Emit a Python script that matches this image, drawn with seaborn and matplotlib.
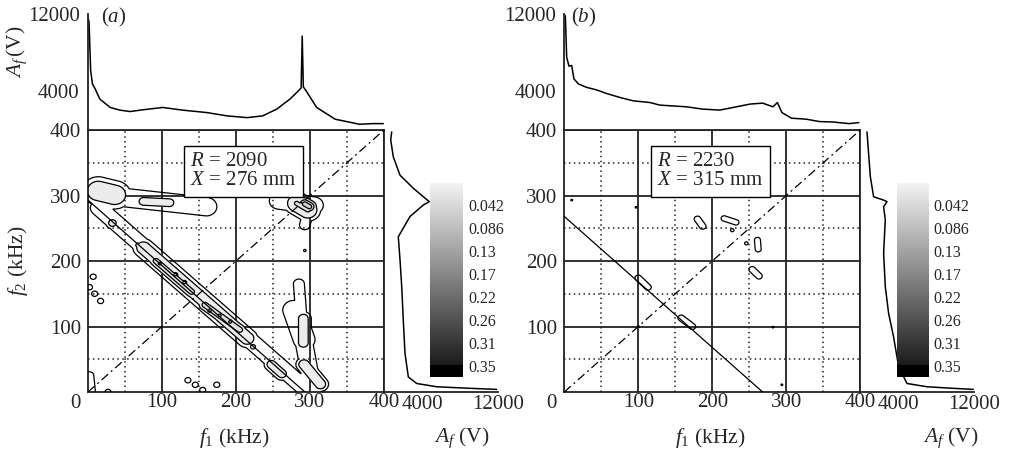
import numpy as np
import matplotlib
matplotlib.use("Agg")
import matplotlib.pyplot as plt
import seaborn as sns
from matplotlib.colors import LinearSegmentedColormap, Normalize

sns.set_style("white")
plt.rcParams['font.family'] = ['Liberation Serif', 'DejaVu Serif']
plt.rcParams['mathtext.fontset'] = 'custom'
plt.rcParams['mathtext.rm'] = 'Liberation Serif'
plt.rcParams['mathtext.it'] = 'Liberation Serif:italic'
plt.rcParams['mathtext.bf'] = 'Liberation Serif:bold'

# ---------------- data ----------------
# Colour-bar levels (bicoherence)
cbar_levels = [0.042, 0.086, 0.13, 0.17, 0.22, 0.26, 0.31, 0.35]
cbar_labels = ["0.042", "0.086", "0.13", "0.17", "0.22", "0.26", "0.31", "0.35"]

# Annotations
a_R, a_X = 2090, 276
b_R, b_X = 2230, 315
a_sum_freq = 293      # f1 + f2 line (kHz)
b_sum_freq = 268
diag = [0, 400]

# Top spectra A_f(f1)  (V)
top_a_f = [0.5, 1.4, 3.6, 6, 9.5, 16, 30, 43, 57, 74, 101, 128, 161, 188, 215, 236, 255,
           273, 284, 288, 289.5, 291, 294, 309, 334, 367, 385, 399]
top_a_v = [11480, 11170, 6150, 4760, 4280, 3200, 2330, 2055, 1910, 2090, 2330, 2055, 1800,
           1460, 1280, 1460, 2160, 3200, 4030, 4350, 9720, 4450, 4140, 2330, 1115, 595, 660, 660]
top_b_f = [0.8, 1.5, 3.2, 6.3, 10, 13, 19, 30, 44, 57, 75, 93, 116, 129, 165, 187, 210, 228,
           251, 268, 282, 288, 294, 307, 327, 345, 362, 385, 398]
top_b_v = [11890, 11680, 7540, 6600, 6680, 5290, 4770, 4415, 4140, 3780, 3370, 3020, 2840,
           2575, 2400, 2160, 2060, 2330, 2680, 2780, 2400, 2840, 1810, 1220, 1120, 870,
           835, 660, 765]

# Right spectra A_f(f2)  (V)
right_a_f2 = [397, 385, 359, 331, 311, 296, 290.6, 285.5, 268, 237, 202, 161, 110, 59, 23,
              13, 8, 5.6, 4]
right_a_v = [810, 705, 980, 1685, 3090, 4315, 4770, 4140, 2740, 1505, 1685, 1865, 2030,
             2210, 2560, 3440, 5550, 9050, 11860]
right_b_f2 = [397, 364, 329, 298, 293, 290.6, 283, 263, 212, 161, 120, 84, 39, 13, 8, 5.6, 4]
right_b_v = [705, 875, 1055, 1400, 2455, 2810, 2455, 2630, 2455, 2630, 2980, 3505, 4030,
             4915, 7020, 9790, 11895]

# Bicoherence features: segment start (f1,f2), end (f1,f2), width (kHz), peak value
a_f1a = [15, 75, 92, 158, 97, 118, 130, 165, 178, 192, 33, 68, 223, 248,
         8, 14, 75, 258, 300, 282, 293, 285, 278, 292, 291, 292,
         7, 2, 9, 17, 135, 145, 155, 174, 2, 27, 293]
a_f2a = [281, 220, 200, 133, 196, 179, 167, 125, 117, 107, 258, 224, 69, 42,
         302, 307, 291, 292, 285, 288, 287, 165, 125, 75, 112, 42,
         176, 160, 150, 139, 18, 11, 3, 11, 25, 0, 216]
a_f1b = [305, 215, 140, 205, 97, 118, 130, 165, 178, 192, 33, 68, 223, 262,
         160, 36, 110, 305, 293, 297, 299, 288, 292, 303, 291, 314,
         7, 2, 9, 17, 135, 145, 155, 174, 4, 27, 293]
a_f2b = [-6, 82, 153, 95, 196, 179, 167, 125, 117, 107, 258, 224, 69, 28,
         283, 301, 289, 285, 255, 278, 283, 120, 80, 8, 75, 12,
         176, 160, 150, 139, 18, 11, 3, 11, 3, 0, 216]
a_w = [10, 9, 5.5, 5.5, 3, 3, 3, 3, 3, 3, 6, 4, 4, 6.5,
       12, 13, 7, 11, 8, 10, 6, 7, 14, 10, 7, 7,
       4.5, 4.5, 4.5, 4.5, 4.5, 4.5, 4.5, 4.5, 6, 4.5, 2.5]
a_amp = [0.04, 0.07, 0.11, 0.11, 0.16, 0.16, 0.16, 0.16, 0.16, 0.16, 0.06, 0.06, 0.06, 0.065,
         0.04, 0.08, 0.06, 0.04, 0.03, 0.09, 0.15, 0.035, 0.035, 0.04, 0.065, 0.07,
         0.03, 0.03, 0.03, 0.03, 0.03, 0.03, 0.03, 0.03, 0.032, 0.03, 0.025]

b_f1a = [100, 158, 180, 216, 227, 246, 261, 254, 10, 97, 282, 294, 100]
b_f2a = [174, 113, 264, 265, 247, 227, 232, 187, 293, 282, 99, 11, 100]
b_f1b = [113, 173, 187, 232, 227, 246, 262, 263, 10, 97, 282, 294, 100]
b_f2b = [160, 100, 253, 259, 247, 227, 218, 177, 293, 282, 99, 11, 100]
b_w = [5, 5, 5, 4.5, 3, 3, 4.5, 5, 1.8, 1.8, 1.8, 1.8, 1.8]
b_amp = [0.03, 0.03, 0.03, 0.03, 0.027, 0.027, 0.03, 0.03, 0.025, 0.025, 0.025, 0.025, 0.025]

# ---------------- helpers ----------------
grid = np.linspace(0, 400, 801)
F1, F2 = np.meshgrid(grid, grid)


def bic_field(f1a, f2a, f1b, f2b, w, amp):
    Z = np.zeros_like(F1)
    for xa, ya, xb, yb, ww, aa in zip(f1a, f2a, f1b, f2b, w, amp):
        dx, dy = xb - xa, yb - ya
        L2 = dx * dx + dy * dy
        if L2 == 0:
            t = 0.0
        else:
            t = np.clip(((F1 - xa) * dx + (F2 - ya) * dy) / L2, 0, 1)
        px, py = xa + t * dx, ya + t * dy
        d2 = (F1 - px) ** 2 + (F2 - py) ** 2
        Z = np.maximum(Z, aa * np.exp(-d2 / (2 * ww * ww)))
    return Z


W, H = 1013, 455
def box(l, t, r, b):
    return [l / W, 1 - b / H, (r - l) / W, (b - t) / H]

cmap = LinearSegmentedColormap.from_list("bic", ["#f3f3f3", "#1c1c1c"])
cmap.set_over("black")

fig = plt.figure(figsize=(W / 100, H / 100), dpi=100)
TICK = 15
LAB = 15.5

panels = [
    dict(x0=88, cbx=(430, 463), field=(a_f1a, a_f2a, a_f1b, a_f2b, a_w, a_amp),
         top=(top_a_f, top_a_v), right=(right_a_f2, right_a_v), sumf=a_sum_freq,
         R=a_R, X=a_X, tag="a", ylab=True, f1x=234, afx=461.7, cbpad=4,
         tx=(190 - 88) * 400 / 296, tagx=114),
    dict(x0=564.3, cbx=(897, 929), field=(b_f1a, b_f2a, b_f1b, b_f2b, b_w, b_amp),
         top=(top_b_f, top_b_v), right=(right_b_f2, right_b_v), sumf=b_sum_freq,
         R=b_R, X=b_X, tag="b", ylab=False, f1x=710, afx=951, cbpad=3,
         tx=(657 - 564.3) * 400 / 296, tagx=584),
]

for p in panels:
    x0 = p["x0"]
    x1 = x0 + 296
    ax = fig.add_axes(box(x0, 130, x1, 392))
    axt = fig.add_axes(box(x0, 14, x1, 130))
    axr = fig.add_axes(box(x1, 130, x1 + 114, 392))
    axc = fig.add_axes(box(p["cbx"][0], 183, p["cbx"][1], 377))

    # ---- main bicoherence panel ----
    Z = bic_field(*p["field"])
    ax.contourf(grid, grid, Z, levels=[0.042, 0.086, 0.13, 0.17, 0.22, 1.0],
                colors=["#ececec", "#e0e0e0", "#d2d2d2", "#c4c4c4", "#b4b4b4"], zorder=2)
    ax.contour(grid, grid, Z, levels=[0.02, 0.042, 0.086, 0.13, 0.17],
               colors="black", linewidths=0.9, zorder=3)
    sns.lineplot(x=diag, y=diag, ax=ax, color="black", lw=0.9,
                 linestyle=(0, (7, 3, 1.5, 3)), zorder=4)
    sf = p["sumf"]
    sns.lineplot(x=[0, sf], y=[sf, 0], ax=ax, color="black", lw=0.9, zorder=4)
    ax.set_xlim(0, 400)
    ax.set_ylim(0, 400)
    ax.set_xticks([100, 200, 300, 400])
    ax.set_yticks([100, 200, 300, 400])
    ax.set_xticks([50, 150, 250, 350], minor=True)
    ax.set_yticks([50, 150, 250, 350], minor=True)
    ax.grid(True, which="major", color="#222222", lw=1.3, ls="-")
    ax.grid(True, which="minor", color="#222222", lw=1.1, ls=(0, (1, 2.2)))
    ax.set_axisbelow(True)
    ax.tick_params(which="both", length=0, labelsize=TICK)
    ax.tick_params(axis="x", pad=1)
    ax.tick_params(axis="y", pad=5)
    for s in ax.spines.values():
        s.set_visible(True)
        s.set_color("#222222")
        s.set_linewidth(1.3)
    ax.text(-0.044, -0.042, "0", transform=ax.transAxes, ha="center", va="center",
            fontsize=TICK)
    ax.set_xlabel("")
    ax.set_ylabel("")
    ax.text(p["tx"], 336.7, f"$R$ = {p['R']}\n$X$ = {p['X']} mm", ha="left", va="center",
            fontsize=TICK, linespacing=1.0, zorder=6,
            bbox=dict(boxstyle="square,pad=0.3", fc="white", ec="black", lw=1.0))

    # ---- top spectrum ----
    sns.lineplot(x=p["top"][0], y=p["top"][1], ax=axt, color="black", lw=1.1,
                 estimator=None, sort=False)
    axt.set_xlim(0, 400)
    axt.set_ylim(0, 12000)
    axt.set_xticks([])
    axt.set_yticks([4000, 12000])
    axt.set_yticklabels(["4000", "12000"])
    axt.tick_params(axis="y", direction="in", length=3, width=1.2, labelsize=TICK, pad=6)
    for k, s in axt.spines.items():
        s.set_visible(k == "left")
        s.set_color("#222222")
        s.set_linewidth(1.3)
    axt.set_xlabel("")
    axt.set_ylabel("")
    axt.patch.set_alpha(0)
    fig.text(p["tagx"] / W, 1 - 17 / H, f"(${p['tag']}$)", ha="center", va="center",
             fontsize=TICK)

    # ---- right spectrum ----
    sns.lineplot(x=p["right"][1], y=p["right"][0], ax=axr, color="black", lw=1.1,
                 estimator=None, sort=False, orient="y")
    axr.set_xlim(0, 12000)
    axr.set_ylim(0, 400)
    axr.set_yticks([])
    axr.set_xticks([4000, 12000])
    axr.set_xticklabels(["4000", "12000"])
    axr.tick_params(axis="x", direction="in", length=3, width=1.2, labelsize=TICK, pad=2)
    for k, s in axr.spines.items():
        s.set_visible(k == "bottom")
        s.set_color("#222222")
        s.set_linewidth(1.3)
    axr.patch.set_alpha(0)
    axr.set_ylabel("")
    axr.set_xlabel("")

    # ---- axis labels ----
    fig.text(p["f1x"] / W, 1 - 438 / H, "$f_1$ (kHz)", ha="center", va="center",
             fontsize=LAB)
    fig.text(p["afx"] / W, 1 - 438 / H, "$A_f$ (V)", ha="center", va="center",
             fontsize=LAB)
    if p["ylab"]:
        fig.text(17.5 / W, 1 - 261 / H, "$f_2$ (kHz)", ha="center", va="center",
                 rotation=90, fontsize=LAB)
        fig.text(17 / W, 1 - 52 / H, "$A_f\\,$(V)", ha="center", va="center",
                 rotation=90, fontsize=LAB)

    # ---- colour bar ----
    vals = np.linspace(0, 0.372, 400)
    axc.imshow(vals[:, None], aspect="auto", cmap=cmap, norm=Normalize(0, 0.35),
               extent=[0, 1, 0.372, 0], interpolation="nearest")
    axc.set_ylim(0.372, 0)
    axc.set_xlim(0, 1)
    axc.set_xticks([])
    axc.yaxis.tick_right()
    axc.set_yticks(np.linspace(cbar_levels[0], cbar_levels[-1], len(cbar_levels)))
    axc.set_yticklabels(cbar_labels)
    axc.tick_params(axis="y", length=0, labelsize=11.5, pad=p["cbpad"])
    for s in axc.spines.values():
        s.set_visible(False)

fig.savefig("out.png", dpi=100)
